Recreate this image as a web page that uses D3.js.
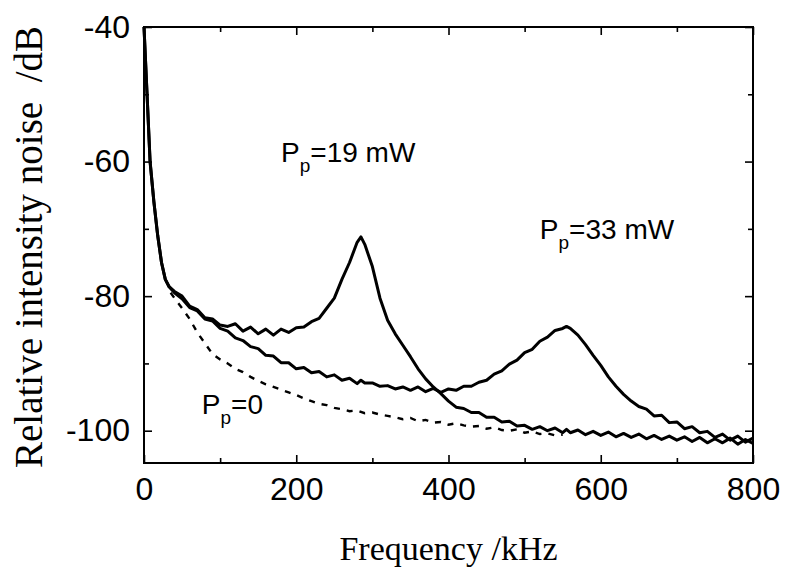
<!DOCTYPE html>
<html>
<head>
<meta charset="utf-8">
<script src="https://cdn.jsdelivr.net/npm/d3@7"></script>
<style>
    body { margin: 0; background: #fff; }
    svg { display: block; }
</style>
</head>
<body>
<div id="chart"></div>
<script>
// set the dimensions and margins of the graph
const MARGIN = {
    top: 27,
    right: 35,
    bottom: 106,
    left: 144,
};
const SVG_WIDTH = 788;
const SVG_HEIGHT = 569;
const WIDTH = SVG_WIDTH - MARGIN.left - MARGIN.right;
const HEIGHT = SVG_HEIGHT - MARGIN.top - MARGIN.bottom;

// data (frequency in kHz, RIN in dB)
const freqSolid = [0, 4, 8, 13, 18, 23, 28, 33, 40,
    50, 60, 70, 80, 90, 100, 110, 120, 130, 140, 150, 160, 170, 180, 190, 200,
    210, 220, 230, 240, 250, 260, 270, 280, 285, 290, 300,
    310, 320, 330, 340, 350, 360, 370, 380, 390, 400,
    410, 420, 430, 440, 450, 460, 470, 480, 490, 500,
    510, 520, 530, 540, 550, 555, 560, 570, 580, 590, 600,
    610, 620, 630, 640, 650, 660, 670, 680, 690, 700,
    710, 720, 730, 740, 750, 760, 770, 780, 790, 800];

const rin19mW = [-40, -50, -60, -66, -71, -75, -77.5, -78.6, -79.3,
    -80.0, -81.5, -82.0, -83.2, -83.4, -84.3, -84.5, -84.1, -85.2, -84.6, -85.6, -84.9, -85.8, -84.9, -85.4, -84.7,
    -84.6, -83.8, -83.3, -81.8, -80.3, -77.5, -75.0, -72.0, -71.2, -72.3, -75.6,
    -80.3, -83.6, -85.6, -87.3, -89.0, -90.8, -92.3, -93.5, -94.5, -95.6,
    -96.5, -96.7, -97.3, -97.3, -98.0, -98.0, -98.7, -98.6, -99.3, -99.2,
    -99.8, -99.4, -100.0, -99.6, -100.3, -99.8, -100.3, -99.9, -100.6, -100.1, -100.7,
    -100.2, -100.9, -100.4, -101.0, -100.5, -101.2, -100.7, -101.3, -100.8, -101.4,
    -100.9, -101.6, -101.0, -101.8, -101.2, -101.8, -101.1, -102.0, -101.3, -101.9];

const rin33mW = [-40, -50, -60, -66, -71, -75, -77.5, -78.6, -79.5,
    -80.4, -81.7, -82.2, -83.4, -83.7, -84.8, -85.2, -86.2, -86.6, -87.5, -87.8, -88.8, -88.9, -89.9, -89.9, -90.8,
    -90.6, -91.4, -91.2, -92.0, -91.7, -92.5, -92.2, -93.0, -92.5, -92.9, -92.9,
    -93.4, -93.3, -93.8, -93.5, -94.0, -93.5, -94.2, -93.7, -94.3, -93.8,
    -94.0, -93.4, -93.4, -92.8, -92.5, -91.6, -91.1, -90.1, -89.5, -88.4,
    -87.9, -86.7, -86.1, -85.1, -84.8, -84.5, -84.8, -85.8, -87.2, -88.8, -90.3,
    -92.0, -93.4, -94.6, -95.6, -96.4, -96.8, -97.8, -97.7, -98.8, -98.7,
    -99.7, -99.4, -100.3, -100.1, -101.0, -100.5, -101.4, -100.8, -101.7, -101.1];

const freqDashed = [35, 40, 50, 60, 70, 80, 90, 100, 110, 120, 130, 140, 150,
    160, 170, 180, 190, 200, 210, 220, 230, 240, 250, 260, 270, 280, 290, 300,
    310, 320, 330, 340, 350, 360, 370, 380, 390, 400, 410, 420, 430, 440, 450,
    460, 470, 480, 490, 500, 510, 520, 530, 540, 550];

const rin0mW = [-79.5, -80.3, -81.8, -83.4, -85.4, -87.0, -88.6, -89.4, -90.0, -90.8, -91.3, -92.0, -92.6,
    -93.1, -93.5, -93.9, -94.3, -94.7, -95.2, -95.6, -96.0, -96.2, -96.6, -96.8, -97.1, -97.0, -97.4, -97.3,
    -97.6, -97.8, -98.0, -98.3, -98.1, -98.6, -98.4, -98.8, -98.7, -99.1, -98.9, -99.2, -99.4, -99.3, -99.7,
    -99.5, -99.9, -100.0, -99.8, -100.3, -100.1, -100.5, -100.4, -100.7, -100.6];

const xMajorTicks = [0, 200, 400, 600, 800];
const xMinorTicks = [100, 300, 500, 700];
const yMajorTicks = [-40, -60, -80, -100];
const yMinorTicks = [-50, -70, -90];

const xLabel = 'Frequency /kHz';
const yLabel = 'Relative intensity noise  /dB';

const SANS = "'Liberation Sans', Arial, Helvetica, sans-serif";
const SERIF = "'Liberation Serif', 'Times New Roman', serif";

const svg = d3.select('#chart')
    .append('svg')
        .attr('width', SVG_WIDTH)
        .attr('height', SVG_HEIGHT)
    .append('g')
        .attr('transform', 'translate(' + MARGIN.left + ',' + MARGIN.top + ')');

const x = d3.scaleLinear()
    .domain([0, 800])
    .range([0, WIDTH]);

const y = d3.scaleLinear()
    .domain([-104.8, -40])
    .range([HEIGHT, 0]);

// plain hyphen for negatives, like the original
const plain = d => String(d);

// axes: ticks point inward on all four sides
function styleAxis(g) {
    g.select('.domain').remove();
    g.selectAll('line').attr('stroke', '#000').attr('stroke-width', 1.6);
    g.selectAll('text')
        .attr('font-family', SANS)
        .attr('font-size', 32)
        .attr('fill', '#000');
}

svg.append('g')
    .attr('transform', 'translate(0,' + HEIGHT + ')')
    .call(d3.axisBottom(x).tickValues(xMajorTicks).tickSize(-8).tickPadding(14).tickFormat(plain))
    .call(styleAxis);
svg.append('g')
    .attr('transform', 'translate(0,' + HEIGHT + ')')
    .call(d3.axisBottom(x).tickValues(xMinorTicks).tickSize(-5).tickFormat(''))
    .call(styleAxis);
svg.append('g')
    .call(d3.axisTop(x).tickValues(xMajorTicks).tickSize(-8).tickFormat(''))
    .call(styleAxis);
svg.append('g')
    .call(d3.axisTop(x).tickValues(xMinorTicks).tickSize(-5).tickFormat(''))
    .call(styleAxis);

svg.append('g')
    .call(d3.axisLeft(y).tickValues(yMajorTicks).tickSize(-8).tickPadding(14).tickFormat(plain))
    .call(styleAxis);
svg.append('g')
    .call(d3.axisLeft(y).tickValues(yMinorTicks).tickSize(-5).tickFormat(''))
    .call(styleAxis);
svg.append('g')
    .attr('transform', 'translate(' + WIDTH + ',0)')
    .call(d3.axisRight(y).tickValues(yMajorTicks).tickSize(-8).tickFormat(''))
    .call(styleAxis);
svg.append('g')
    .attr('transform', 'translate(' + WIDTH + ',0)')
    .call(d3.axisRight(y).tickValues(yMinorTicks).tickSize(-5).tickFormat(''))
    .call(styleAxis);

// frame
svg.append('rect')
    .attr('x', 0)
    .attr('y', 0)
    .attr('width', WIDTH)
    .attr('height', HEIGHT)
    .attr('fill', 'none')
    .attr('stroke', '#000')
    .attr('stroke-width', 2);

// axis titles
svg.append('text')
    .text(xLabel)
    .attr('text-anchor', 'middle')
    .attr('font-family', SERIF)
    .attr('font-size', 34)
    .attr('x', WIDTH / 2)
    .attr('y', HEIGHT + 97);

svg.append('text')
    .text(yLabel)
    .attr('transform', 'rotate(-90)')
    .attr('text-anchor', 'middle')
    .attr('font-family', SERIF)
    .attr('font-size', 39)
    .style('white-space', 'pre')
    .attr('x', -(247 - MARGIN.top))
    .attr('y', 42 - MARGIN.left);

// the lines
const line = d3.line()
    .x(d => x(d[0]))
    .y(d => y(d[1]));

svg.append('path')
    .datum(d3.zip(freqDashed, rin0mW))
    .attr('fill', 'none')
    .attr('stroke', '#000')
    .attr('stroke-width', 2.4)
    .attr('stroke-dasharray', '6,7')
    .attr('d', line);

[rin33mW, rin19mW].forEach(function (values) {
    svg.append('path')
        .datum(d3.zip(freqSolid, values))
        .attr('fill', 'none')
        .attr('stroke', '#000')
        .attr('stroke-width', 3)
        .attr('stroke-linejoin', 'round')
        .attr('d', line);
});

// labels P_p=...
const labels = [
    { text: '=19 mW', f: 180, v: -60 },
    { text: '=33 mW', f: 520, v: -71.5 },
    { text: '=0', f: 76, v: -97.5 },
];

labels.forEach(function (l) {
    const t = svg.append('text')
        .attr('font-family', SANS)
        .attr('font-size', 28)
        .attr('x', x(l.f))
        .attr('y', y(l.v));
    t.append('tspan').text('P');
    t.append('tspan').text('p')
        .attr('font-size', 19)
        .attr('dy', 10);
    t.append('tspan').text(l.text)
        .attr('dy', -10);
});
</script>
</body>
</html>
